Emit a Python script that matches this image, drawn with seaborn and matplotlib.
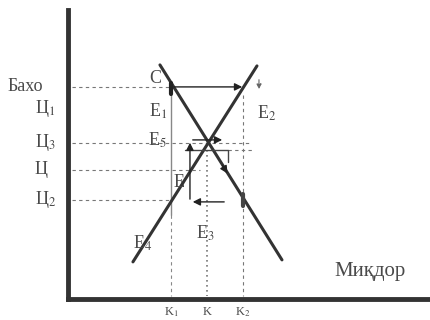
import numpy as np
import pandas as pd
import seaborn as sns
import matplotlib.pyplot as plt

sns.set_theme(style="white")
plt.rcParams['font.family'] = ['Liberation Serif', 'DejaVu Serif']
plt.rcParams['mathtext.fontset'] = 'stix'

# price levels (vertical axis) and quantity levels (horizontal axis)
price_names = ["Бахо", "Ц$_1$", "Ц$_3$", "Ц", "Ц$_2$"]
price_levels = [21.2, 19.0, 15.6, 12.9, 9.9]
qty_names = ["K$_1$", "K", "K$_2$"]
qty_levels = [10.3, 13.9, 17.5]

# demand and supply lines
demand_q = [9.2, 21.4]
demand_p = [23.4, 3.9]
supply_q = [6.5, 18.9]
supply_p = [3.7, 23.3]

# cobweb path (quantity, price)
cob_q = [10.3, 17.7]
cob_p = [21.2, 21.2]
inner_q = [15.9, 12.2, 12.2, 15.7]
inner_p = [9.7, 9.7, 15.9, 15.9]

# point labels
pt_names = ["C", "E$_1$", "E$_5$", "E", "E$_2$", "E$_3$", "E$_4$"]
pt_q = [8.7, 8.6, 9.0, 11.1, 19.9, 13.7, 7.5]
pt_p = [22.0, 18.8, 15.9, 11.6, 18.6, 6.6, 5.6]

lines = pd.DataFrame({
    "q": demand_q + supply_q,
    "p": demand_p + supply_p,
    "curve": ["D", "D", "S", "S"],
})

txt = "#4a4a4a"
ink = "#333333"

fig = plt.figure(figsize=(4.3, 3.2), dpi=100)
ax = fig.add_axes([0.158, 0.066, 0.842, 0.903])

# guide lines
guide_end = [10.3, None, 18.2, 13.2, 10.3]
for p, end in zip(price_levels, guide_end):
    if end is None:
        continue
    ax.plot([0.4, end], [p, p], ls=(0, (3, 3)), color="#777777", lw=0.8)
ax.plot([16.0, 18.4], [14.9, 14.9], ls=(0, (3, 3)), color="#777777", lw=0.8)

ax.plot([qty_levels[0]] * 2, [cob_p[0], 8.4], color="#888888", lw=1.0)
ax.plot([qty_levels[0]] * 2, [8.4, 0.3], ls=(0, (3, 3)), color="#888888", lw=0.8)
ax.plot([qty_levels[1]] * 2, [14.9, 0.3], ls=(0, (1, 2)), color="#777777", lw=1.2)
ax.plot([qty_levels[2]] * 2, [20.4, 0.3], ls=(0, (3, 3)), color="#777777", lw=0.8)

sns.lineplot(data=lines, x="q", y="p", units="curve", estimator=None,
             color=ink, lw=2.2, ax=ax, legend=False)

# cobweb arrows
arr = dict(arrowstyle="-|>", color="#222222", lw=1.0, mutation_scale=11)
ax.annotate("", xy=(cob_q[1], cob_p[1]), xytext=(cob_q[0], cob_p[0]), arrowprops=arr)
for k in range(len(inner_q) - 1):
    ax.annotate("", xy=(inner_q[k + 1], inner_p[k + 1]),
                xytext=(inner_q[k], inner_p[k]), arrowprops=arr)
ax.plot([11.7, 16.0, 16.0], [14.9, 14.9, 13.7], color="#444444", lw=1.0)
ax.annotate("", xy=(16.1, 12.3), xytext=(15.3, 13.6), arrowprops=arr)
ax.annotate("", xy=(19.1, 20.7), xytext=(19.1, 22.2),
            arrowprops=dict(arrowstyle="-|>", color="#666666", lw=0.8,
                            ls="--", mutation_scale=7))
ax.plot([qty_levels[0]] * 2, [20.5, 21.6], color="#222222", lw=3)
ax.plot([qty_levels[2]] * 2, [9.3, 10.5], color="#444444", lw=3)

# labels
for name, p in zip(price_names, price_levels):
    x0 = -6.0 if name == "Бахо" else -3.3
    fs = 13 if name == "Бахо" else 13
    ax.text(x0, p, name, ha="left", va="center", fontsize=fs, color=txt, clip_on=False)
for name, q in zip(qty_names, qty_levels):
    ax.text(q, -1.35, name, ha="center", va="center", fontsize=9, color=txt, clip_on=False)
for name, q, p in zip(pt_names, pt_q, pt_p):
    ha = "right" if name in ("E$_1$", "E$_5$") else "center"
    if ha == "right":
        q = 9.9
    ax.text(q, p, name, ha=ha, va="center", fontsize=13, color=txt)
ax.text(30.2, 2.7, "Миқдор", ha="center", va="center", fontsize=15, color=txt)

ax.set_xlim(0, 36.2)
ax.set_ylim(0, 28.9)
ax.set_xticks([])
ax.set_yticks([])
ax.set_xlabel("")
ax.set_ylabel("")
for s in ["top", "right"]:
    ax.spines[s].set_visible(False)
for s in ["left", "bottom"]:
    ax.spines[s].set_color(ink)
    ax.spines[s].set_linewidth(3.5)

fig.savefig("out.png", dpi=100)
